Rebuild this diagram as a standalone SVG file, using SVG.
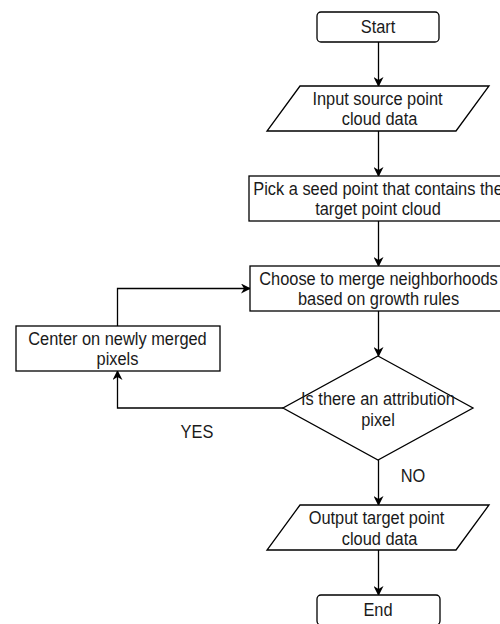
<svg xmlns="http://www.w3.org/2000/svg" width="500" height="624" viewBox="0 0 500 624">
<defs>
<marker id="arr" viewBox="0 0 10 10" refX="9" refY="5" markerWidth="10" markerHeight="10" markerUnits="userSpaceOnUse" orient="auto">
<path d="M0,0 L10,5 L0,10 L3,5 Z" fill="#000"/>
</marker>
</defs>
<style>
.n{fill:#fff;stroke:#000;stroke-width:1.3}
.t{font-family:"Liberation Sans",Arial,sans-serif;font-size:16.4px;fill:#1a1a1a;text-anchor:middle}
.c{fill:none;stroke:#000;stroke-width:1.3;marker-end:url(#arr)}
</style>
<rect width="500" height="624" fill="#fff"/>
<g id="connectors">
<line class="c" x1="378.5" y1="42" x2="378.5" y2="86"/>
<line class="c" x1="378.5" y1="131" x2="378.5" y2="176"/>
<line class="c" x1="378.5" y1="221" x2="378.5" y2="266"/>
<line class="c" x1="378.5" y1="311" x2="378.5" y2="356"/>
<polyline class="c" points="283,408 117.5,408 117.5,371"/>
<polyline class="c" points="117.5,326 117.5,288.5 250,288.5"/>
<line class="c" x1="378.5" y1="460" x2="378.5" y2="505"/>
<line class="c" x1="378.5" y1="550" x2="378.5" y2="595"/>
</g>
<g id="start">
<rect class="n" x="317" y="12" width="122" height="30" rx="4"/>
<text class="t" transform="translate(378,33) scale(1,1.08)">Start</text>
</g>
<g id="input">
<polygon class="n" points="300,86 489,86 456,131 267,131"/>
<text class="t" transform="translate(377.5,105) scale(1,1.08)">Input source point</text>
<text class="t" transform="translate(379.5,125) scale(1,1.08)">cloud data</text>
</g>
<g id="pick">
<rect class="n" x="249" y="176" width="258" height="45"/>
<text class="t" transform="translate(378,195) scale(1,1.08)">Pick a seed point that contains the</text>
<text class="t" transform="translate(378,215) scale(1,1.08)">target point cloud</text>
</g>
<g id="choose">
<rect class="n" x="250" y="266" width="258" height="45"/>
<text class="t" transform="translate(378.5,285) scale(1,1.08)">Choose to merge neighborhoods</text>
<text class="t" transform="translate(378.5,305) scale(1,1.08)">based on growth rules</text>
</g>
<g id="center">
<rect class="n" x="16" y="326" width="204" height="45"/>
<text class="t" transform="translate(117.5,345) scale(1,1.08)">Center on newly merged</text>
<text class="t" transform="translate(117.5,365) scale(1,1.08)">pixels</text>
</g>
<g id="decision">
<polygon class="n" points="378,356 473,408 378,460 283,408"/>
<text class="t" transform="translate(378,405) scale(1,1.08)">Is there an attribution</text>
<text class="t" transform="translate(378,426) scale(1,1.08)">pixel</text>
</g>
<g id="output">
<polygon class="n" points="300,505 489,505 456,550 267,550"/>
<text class="t" transform="translate(376.5,524) scale(1,1.08)">Output target point</text>
<text class="t" transform="translate(379.5,545) scale(1,1.08)">cloud data</text>
</g>
<g id="end">
<rect class="n" x="317" y="595" width="123" height="30" rx="4"/>
<text class="t" transform="translate(378,616) scale(1,1.08)">End</text>
</g>
<g id="labels">
<text class="t" transform="translate(197,438) scale(1,1.08)">YES</text>
<text class="t" transform="translate(413,482) scale(1,1.08)">NO</text>
</g>
</svg>
